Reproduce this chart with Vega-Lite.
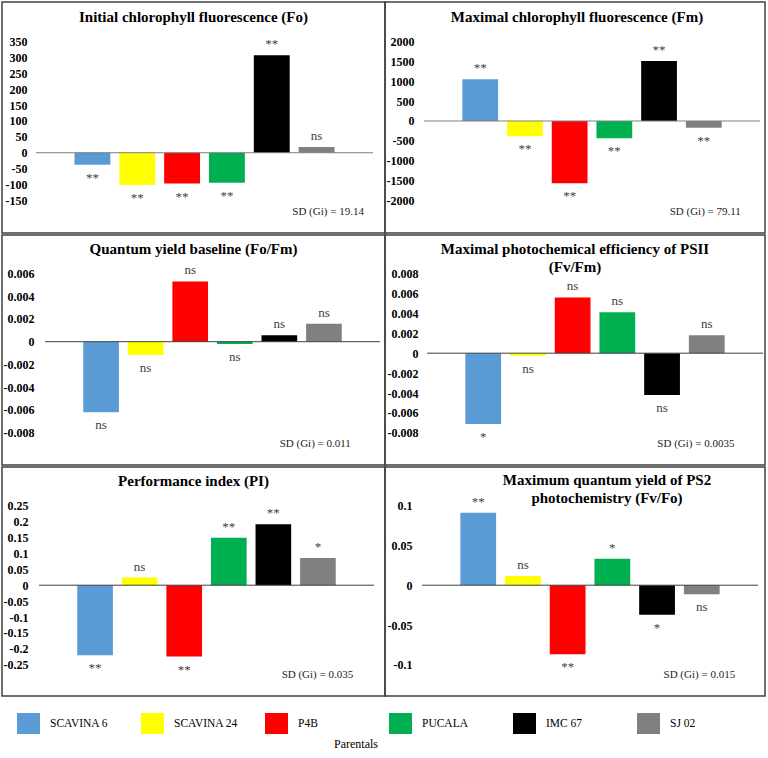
{
  "$schema": "https://vega.github.io/schema/vega-lite/v6.json",
  "padding": {"left": 1, "top": 1, "right": 0, "bottom": 0},
  "background": "white",
  "spacing": 0,
  "datasets": {
    "gca": [
      {"panel": "Fo", "parental": "SCAVINA 6", "value": -38, "sig": "**"},
      {"panel": "Fo", "parental": "SCAVINA 24", "value": -102, "sig": "**"},
      {"panel": "Fo", "parental": "P4B", "value": -97, "sig": "**"},
      {"panel": "Fo", "parental": "PUCALA", "value": -95, "sig": "**"},
      {"panel": "Fo", "parental": "IMC 67", "value": 307, "sig": "**"},
      {"panel": "Fo", "parental": "SJ 02", "value": 18, "sig": "ns"},
      {"panel": "Fm", "parental": "SCAVINA 6", "value": 1052, "sig": "**"},
      {"panel": "Fm", "parental": "SCAVINA 24", "value": -386, "sig": "**"},
      {"panel": "Fm", "parental": "P4B", "value": -1572, "sig": "**"},
      {"panel": "Fm", "parental": "PUCALA", "value": -437, "sig": "**"},
      {"panel": "Fm", "parental": "IMC 67", "value": 1513, "sig": "**"},
      {"panel": "Fm", "parental": "SJ 02", "value": -168, "sig": "**"},
      {"panel": "FoFm", "parental": "SCAVINA 6", "value": -0.0062, "sig": "ns"},
      {"panel": "FoFm", "parental": "SCAVINA 24", "value": -0.00117, "sig": "ns"},
      {"panel": "FoFm", "parental": "P4B", "value": 0.0053, "sig": "ns"},
      {"panel": "FoFm", "parental": "PUCALA", "value": -0.0002, "sig": "ns"},
      {"panel": "FoFm", "parental": "IMC 67", "value": 0.00056, "sig": "ns"},
      {"panel": "FoFm", "parental": "SJ 02", "value": 0.00158, "sig": "ns"},
      {"panel": "FvFm", "parental": "SCAVINA 6", "value": -0.0071, "sig": "*"},
      {"panel": "FvFm", "parental": "SCAVINA 24", "value": -0.00025, "sig": "ns"},
      {"panel": "FvFm", "parental": "P4B", "value": 0.0056, "sig": "ns"},
      {"panel": "FvFm", "parental": "PUCALA", "value": 0.0041, "sig": "ns"},
      {"panel": "FvFm", "parental": "IMC 67", "value": -0.0042, "sig": "ns"},
      {"panel": "FvFm", "parental": "SJ 02", "value": 0.0018, "sig": "ns"},
      {"panel": "PI", "parental": "SCAVINA 6", "value": -0.22, "sig": "**"},
      {"panel": "PI", "parental": "SCAVINA 24", "value": 0.024, "sig": "ns"},
      {"panel": "PI", "parental": "P4B", "value": -0.224, "sig": "**"},
      {"panel": "PI", "parental": "PUCALA", "value": 0.149, "sig": "**"},
      {"panel": "PI", "parental": "IMC 67", "value": 0.191, "sig": "**"},
      {"panel": "PI", "parental": "SJ 02", "value": 0.085, "sig": "*"},
      {"panel": "FvFo", "parental": "SCAVINA 6", "value": 0.091, "sig": "**"},
      {"panel": "FvFo", "parental": "SCAVINA 24", "value": 0.0115, "sig": "ns"},
      {"panel": "FvFo", "parental": "P4B", "value": -0.0868, "sig": "**"},
      {"panel": "FvFo", "parental": "PUCALA", "value": 0.0333, "sig": "*"},
      {"panel": "FvFo", "parental": "IMC 67", "value": -0.037, "sig": "*"},
      {"panel": "FvFo", "parental": "SJ 02", "value": -0.0114, "sig": "ns"}
    ],
    "sd": [
      {"panel": "Fo", "sd": "SD (Gi) = 19.14"},
      {"panel": "Fm", "sd": "SD (Gi) = 79.11"},
      {"panel": "FoFm", "sd": "SD (Gi) = 0.011"},
      {"panel": "FvFm", "sd": "SD (Gi) = 0.0035"},
      {"panel": "PI", "sd": "SD (Gi) = 0.035"},
      {"panel": "FvFo", "sd": "SD (Gi) = 0.015"}
    ]
  },
  "vconcat": [
    {
      "bounds": "flush",
      "hconcat": [
        {
          "width": 383, "height": 231,
          "title": {"text": "Initial chlorophyll fluorescence (Fo)", "offset": -23},
          "data": {"name": "gca"},
          "transform": [{"filter": "datum.panel == 'Fo'"}],
          "resolve": {"scale": {"x": "independent"}},
          "layer": [
            {
              "mark": {"type": "bar"},
              "encoding": {
                "x": {"field": "parental", "type": "nominal", "sort": null, "axis": null,
                      "scale": {"type": "band", "domain": ["SCAVINA 6", "SCAVINA 24", "P4B", "PUCALA", "IMC 67", "SJ 02"], "range": [34, 371], "paddingInner": 0.2, "paddingOuter": 0.858}},
                "y": {"field": "value", "type": "quantitative",
                      "scale": {"domain": [-253, 475], "nice": false, "zero": false},
                      "axis": {"values": [-150, -100, -50, 0, 50, 100, 150, 200, 250, 300, 350], "tickCount": 50, "offset": -25, "labelOverlap": false}},
                "color": {"field": "parental", "type": "nominal", "sort": null,
                          "scale": {"domain": ["SCAVINA 6", "SCAVINA 24", "P4B", "PUCALA", "IMC 67", "SJ 02"], "range": ["#5B9BD5", "#FFFF00", "#FF0000", "#00B050", "#000000", "#808080"]},
                          "legend": {"title": "Parentals", "orient": "none", "legendX": 15, "legendY": 710, "direction": "horizontal", "columns": 6, "gridAlign": "all", "columnPadding": 26, "symbolType": "M-1,-0.913H1V0.913H-1Z", "symbolSize": 529, "symbolStrokeWidth": 0, "symbolOpacity": 1, "labelFont": "Liberation Serif", "labelFontSize": 11.5, "labelColor": "#000000", "labelOffset": 10, "titleOrient": "bottom", "titleAnchor": "middle", "titleFont": "Liberation Serif", "titleFontSize": 12, "titleFontWeight": "normal", "titleColor": "#000000", "titleBaseline": "top", "titlePadding": 5, "padding": 0}}
              }
            },
            {
              "transform": [{"filter": "datum.value >= 0"}],
              "mark": {"type": "text", "baseline": "alphabetic", "dy": -7},
              "encoding": {
                "x": {"field": "parental", "type": "nominal", "sort": null, "axis": null,
                      "scale": {"type": "band", "domain": ["SCAVINA 6", "SCAVINA 24", "P4B", "PUCALA", "IMC 67", "SJ 02"], "range": [34, 371], "paddingInner": 0.2, "paddingOuter": 0.858}},
                "y": {"field": "value", "type": "quantitative"},
                "text": {"field": "sig"}
              }
            },
            {
              "transform": [{"filter": "datum.value < 0"}],
              "mark": {"type": "text", "baseline": "alphabetic", "dy": 17},
              "encoding": {
                "x": {"field": "parental", "type": "nominal", "sort": null, "axis": null,
                      "scale": {"type": "band", "domain": ["SCAVINA 6", "SCAVINA 24", "P4B", "PUCALA", "IMC 67", "SJ 02"], "range": [34, 371], "paddingInner": 0.2, "paddingOuter": 0.858}},
                "y": {"field": "value", "type": "quantitative"},
                "text": {"field": "sig"}
              }
            },
            {
              "data": {"name": "sd"},
              "transform": [{"filter": "datum.panel == 'Fo'"}],
              "layer": [
                {"mark": {"type": "rule", "color": "#7f7f7f", "strokeWidth": 1},
                 "encoding": {"x": {"datum": 0, "type": "quantitative", "axis": null, "scale": {"domain": [0, 1], "range": [34, 371]}}, "x2": {"datum": 1}, "y": {"datum": 0, "type": "quantitative"}}},
                {"mark": {"type": "text", "align": "right", "baseline": "middle", "fontSize": 11, "color": "#222222"},
                 "encoding": {"x": {"datum": 0.973, "type": "quantitative", "axis": null, "scale": {"domain": [0, 1], "range": [34, 371]}}, "y": {"datum": -187, "type": "quantitative"}, "text": {"field": "sd"}}}
              ]
            }
          ]
        },
        {
          "width": 380, "height": 231,
          "title": {"text": "Maximal chlorophyll fluorescence (Fm)", "offset": -23, "dx": 2},
          "data": {"name": "gca"},
          "transform": [{"filter": "datum.panel == 'Fm'"}],
          "resolve": {"scale": {"x": "independent"}},
          "layer": [
            {
              "mark": {"type": "bar"},
              "encoding": {
                "x": {"field": "parental", "type": "nominal", "sort": null, "axis": null,
                      "scale": {"type": "band", "domain": ["SCAVINA 6", "SCAVINA 24", "P4B", "PUCALA", "IMC 67", "SJ 02"], "range": [39, 375], "paddingInner": 0.2, "paddingOuter": 0.858}},
                "y": {"field": "value", "type": "quantitative",
                      "scale": {"domain": [-2825, 3001], "nice": false, "zero": false},
                      "axis": {"values": [-2000, -1500, -1000, -500, 0, 500, 1000, 1500, 2000], "tickCount": 50, "offset": -29, "labelOverlap": false}},
                "color": {"field": "parental", "type": "nominal", "sort": null,
                          "scale": {"domain": ["SCAVINA 6", "SCAVINA 24", "P4B", "PUCALA", "IMC 67", "SJ 02"], "range": ["#5B9BD5", "#FFFF00", "#FF0000", "#00B050", "#000000", "#808080"]}}
              }
            },
            {
              "transform": [{"filter": "datum.value >= 0"}],
              "mark": {"type": "text", "baseline": "alphabetic", "dy": -7},
              "encoding": {
                "x": {"field": "parental", "type": "nominal", "sort": null, "axis": null,
                      "scale": {"type": "band", "domain": ["SCAVINA 6", "SCAVINA 24", "P4B", "PUCALA", "IMC 67", "SJ 02"], "range": [39, 375], "paddingInner": 0.2, "paddingOuter": 0.858}},
                "y": {"field": "value", "type": "quantitative"},
                "text": {"field": "sig"}
              }
            },
            {
              "transform": [{"filter": "datum.value < 0"}],
              "mark": {"type": "text", "baseline": "alphabetic", "dy": 17},
              "encoding": {
                "x": {"field": "parental", "type": "nominal", "sort": null, "axis": null,
                      "scale": {"type": "band", "domain": ["SCAVINA 6", "SCAVINA 24", "P4B", "PUCALA", "IMC 67", "SJ 02"], "range": [39, 375], "paddingInner": 0.2, "paddingOuter": 0.858}},
                "y": {"field": "value", "type": "quantitative"},
                "text": {"field": "sig"}
              }
            },
            {
              "data": {"name": "sd"},
              "transform": [{"filter": "datum.panel == 'Fm'"}],
              "layer": [
                {"mark": {"type": "rule", "color": "#7f7f7f", "strokeWidth": 1},
                 "encoding": {"x": {"datum": 0, "type": "quantitative", "axis": null, "scale": {"domain": [0, 1], "range": [39, 375]}}, "x2": {"datum": 1}, "y": {"datum": 0, "type": "quantitative"}}},
                {"mark": {"type": "text", "align": "right", "baseline": "middle", "fontSize": 11, "color": "#222222"},
                 "encoding": {"x": {"datum": 0.943, "type": "quantitative", "axis": null, "scale": {"domain": [0, 1], "range": [39, 375]}}, "y": {"datum": -2295, "type": "quantitative"}, "text": {"field": "sd"}}}
              ]
            }
          ]
        }
      ]
    },
    {
      "bounds": "flush",
      "hconcat": [
        {
          "width": 383, "height": 230,
          "title": {"text": "Quantum yield baseline (Fo/Fm)", "offset": -22},
          "data": {"name": "gca"},
          "transform": [{"filter": "datum.panel == 'FoFm'"}],
          "resolve": {"scale": {"x": "independent"}},
          "layer": [
            {
              "mark": {"type": "bar"},
              "encoding": {
                "x": {"field": "parental", "type": "nominal", "sort": null, "axis": null,
                      "scale": {"type": "band", "domain": ["SCAVINA 6", "SCAVINA 24", "P4B", "PUCALA", "IMC 67", "SJ 02"], "range": [43, 378], "paddingInner": 0.2, "paddingOuter": 0.858}},
                "y": {"field": "value", "type": "quantitative",
                      "scale": {"domain": [-0.010836, 0.009377], "nice": false, "zero": false},
                      "axis": {"values": [-0.008, -0.006, -0.004, -0.002, 0, 0.002, 0.004, 0.006], "tickCount": 50, "offset": -32, "labelOverlap": false}},
                "color": {"field": "parental", "type": "nominal", "sort": null,
                          "scale": {"domain": ["SCAVINA 6", "SCAVINA 24", "P4B", "PUCALA", "IMC 67", "SJ 02"], "range": ["#5B9BD5", "#FFFF00", "#FF0000", "#00B050", "#000000", "#808080"]}}
              }
            },
            {
              "transform": [{"filter": "datum.value >= 0"}],
              "mark": {"type": "text", "baseline": "alphabetic", "dy": -7},
              "encoding": {
                "x": {"field": "parental", "type": "nominal", "sort": null, "axis": null,
                      "scale": {"type": "band", "domain": ["SCAVINA 6", "SCAVINA 24", "P4B", "PUCALA", "IMC 67", "SJ 02"], "range": [43, 378], "paddingInner": 0.2, "paddingOuter": 0.858}},
                "y": {"field": "value", "type": "quantitative"},
                "text": {"field": "sig"}
              }
            },
            {
              "transform": [{"filter": "datum.value < 0"}],
              "mark": {"type": "text", "baseline": "alphabetic", "dy": 17},
              "encoding": {
                "x": {"field": "parental", "type": "nominal", "sort": null, "axis": null,
                      "scale": {"type": "band", "domain": ["SCAVINA 6", "SCAVINA 24", "P4B", "PUCALA", "IMC 67", "SJ 02"], "range": [43, 378], "paddingInner": 0.2, "paddingOuter": 0.858}},
                "y": {"field": "value", "type": "quantitative"},
                "text": {"field": "sig"}
              }
            },
            {
              "data": {"name": "sd"},
              "transform": [{"filter": "datum.panel == 'FoFm'"}],
              "layer": [
                {"mark": {"type": "rule", "color": "#3f3f3f", "strokeWidth": 1},
                 "encoding": {"x": {"datum": 0, "type": "quantitative", "axis": null, "scale": {"domain": [0, 1], "range": [43, 378]}}, "x2": {"datum": 1}, "y": {"datum": 0, "type": "quantitative"}}},
                {"mark": {"type": "text", "align": "right", "baseline": "middle", "fontSize": 11, "color": "#222222"},
                 "encoding": {"x": {"datum": 0.913, "type": "quantitative", "axis": null, "scale": {"domain": [0, 1], "range": [43, 378]}}, "y": {"datum": -0.00899, "type": "quantitative"}, "text": {"field": "sd"}}}
              ]
            }
          ]
        },
        {
          "width": 380, "height": 230,
          "title": {"text": ["Maximal photochemical efficiency of PSII", "(Fv/Fm)"], "offset": -40, "lineHeight": 18},
          "data": {"name": "gca"},
          "transform": [{"filter": "datum.panel == 'FvFm'"}],
          "resolve": {"scale": {"x": "independent"}},
          "layer": [
            {
              "mark": {"type": "bar"},
              "encoding": {
                "x": {"field": "parental", "type": "nominal", "sort": null, "axis": null,
                      "scale": {"type": "band", "domain": ["SCAVINA 6", "SCAVINA 24", "P4B", "PUCALA", "IMC 67", "SJ 02"], "range": [42, 378], "paddingInner": 0.2, "paddingOuter": 0.858}},
                "y": {"field": "value", "type": "quantitative",
                      "scale": {"domain": [-0.01123, 0.01187], "nice": false, "zero": false},
                      "axis": {"values": [-0.008, -0.006, -0.004, -0.002, 0, 0.002, 0.004, 0.006, 0.008], "tickCount": 50, "offset": -33, "labelOverlap": false}},
                "color": {"field": "parental", "type": "nominal", "sort": null,
                          "scale": {"domain": ["SCAVINA 6", "SCAVINA 24", "P4B", "PUCALA", "IMC 67", "SJ 02"], "range": ["#5B9BD5", "#FFFF00", "#FF0000", "#00B050", "#000000", "#808080"]}}
              }
            },
            {
              "transform": [{"filter": "datum.value >= 0"}],
              "mark": {"type": "text", "baseline": "alphabetic", "dy": -7},
              "encoding": {
                "x": {"field": "parental", "type": "nominal", "sort": null, "axis": null,
                      "scale": {"type": "band", "domain": ["SCAVINA 6", "SCAVINA 24", "P4B", "PUCALA", "IMC 67", "SJ 02"], "range": [42, 378], "paddingInner": 0.2, "paddingOuter": 0.858}},
                "y": {"field": "value", "type": "quantitative"},
                "text": {"field": "sig"}
              }
            },
            {
              "transform": [{"filter": "datum.value < 0"}],
              "mark": {"type": "text", "baseline": "alphabetic", "dy": 17},
              "encoding": {
                "x": {"field": "parental", "type": "nominal", "sort": null, "axis": null,
                      "scale": {"type": "band", "domain": ["SCAVINA 6", "SCAVINA 24", "P4B", "PUCALA", "IMC 67", "SJ 02"], "range": [42, 378], "paddingInner": 0.2, "paddingOuter": 0.858}},
                "y": {"field": "value", "type": "quantitative"},
                "text": {"field": "sig"}
              }
            },
            {
              "data": {"name": "sd"},
              "transform": [{"filter": "datum.panel == 'FvFm'"}],
              "layer": [
                {"mark": {"type": "rule", "color": "#3f3f3f", "strokeWidth": 1},
                 "encoding": {"x": {"datum": 0, "type": "quantitative", "axis": null, "scale": {"domain": [0, 1], "range": [42, 378]}}, "x2": {"datum": 1}, "y": {"datum": 0, "type": "quantitative"}}},
                {"mark": {"type": "text", "align": "right", "baseline": "middle", "fontSize": 11, "color": "#222222"},
                 "encoding": {"x": {"datum": 0.915, "type": "quantitative", "axis": null, "scale": {"domain": [0, 1], "range": [42, 378]}}, "y": {"datum": -0.00912, "type": "quantitative"}, "text": {"field": "sd"}}}
              ]
            }
          ]
        }
      ]
    },
    {
      "bounds": "flush",
      "hconcat": [
        {
          "width": 383, "height": 229,
          "title": {"text": "Performance index (PI)", "offset": -22},
          "data": {"name": "gca"},
          "transform": [{"filter": "datum.panel == 'PI'"}],
          "resolve": {"scale": {"x": "independent"}},
          "layer": [
            {
              "mark": {"type": "bar"},
              "encoding": {
                "x": {"field": "parental", "type": "nominal", "sort": null, "axis": null,
                      "scale": {"type": "band", "domain": ["SCAVINA 6", "SCAVINA 24", "P4B", "PUCALA", "IMC 67", "SJ 02"], "range": [37, 372], "paddingInner": 0.2, "paddingOuter": 0.858}},
                "y": {"field": "value", "type": "quantitative",
                      "scale": {"domain": [-0.3477, 0.3709], "nice": false, "zero": false},
                      "axis": {"values": [-0.25, -0.2, -0.15, -0.1, -0.05, 0, 0.05, 0.1, 0.15, 0.2, 0.25], "tickCount": 50, "offset": -26, "labelOverlap": false}},
                "color": {"field": "parental", "type": "nominal", "sort": null,
                          "scale": {"domain": ["SCAVINA 6", "SCAVINA 24", "P4B", "PUCALA", "IMC 67", "SJ 02"], "range": ["#5B9BD5", "#FFFF00", "#FF0000", "#00B050", "#000000", "#808080"]}}
              }
            },
            {
              "transform": [{"filter": "datum.value >= 0"}],
              "mark": {"type": "text", "baseline": "alphabetic", "dy": -7},
              "encoding": {
                "x": {"field": "parental", "type": "nominal", "sort": null, "axis": null,
                      "scale": {"type": "band", "domain": ["SCAVINA 6", "SCAVINA 24", "P4B", "PUCALA", "IMC 67", "SJ 02"], "range": [37, 372], "paddingInner": 0.2, "paddingOuter": 0.858}},
                "y": {"field": "value", "type": "quantitative"},
                "text": {"field": "sig"}
              }
            },
            {
              "transform": [{"filter": "datum.value < 0"}],
              "mark": {"type": "text", "baseline": "alphabetic", "dy": 17},
              "encoding": {
                "x": {"field": "parental", "type": "nominal", "sort": null, "axis": null,
                      "scale": {"type": "band", "domain": ["SCAVINA 6", "SCAVINA 24", "P4B", "PUCALA", "IMC 67", "SJ 02"], "range": [37, 372], "paddingInner": 0.2, "paddingOuter": 0.858}},
                "y": {"field": "value", "type": "quantitative"},
                "text": {"field": "sig"}
              }
            },
            {
              "data": {"name": "sd"},
              "transform": [{"filter": "datum.panel == 'PI'"}],
              "layer": [
                {"mark": {"type": "rule", "color": "#3f3f3f", "strokeWidth": 1},
                 "encoding": {"x": {"datum": 0, "type": "quantitative", "axis": null, "scale": {"domain": [0, 1], "range": [37, 372]}}, "x2": {"datum": 1}, "y": {"datum": 0, "type": "quantitative"}}},
                {"mark": {"type": "text", "align": "right", "baseline": "middle", "fontSize": 11, "color": "#222222"},
                 "encoding": {"x": {"datum": 0.938, "type": "quantitative", "axis": null, "scale": {"domain": [0, 1], "range": [37, 372]}}, "y": {"datum": -0.2818, "type": "quantitative"}, "text": {"field": "sd"}}}
              ]
            }
          ]
        },
        {
          "width": 380, "height": 229,
          "title": {"text": ["Maximum quantum yield of PS2", "photochemistry (Fv/Fo)"], "offset": -39, "lineHeight": 18, "dx": 32},
          "data": {"name": "gca"},
          "transform": [{"filter": "datum.panel == 'FvFo'"}],
          "resolve": {"scale": {"x": "independent"}},
          "layer": [
            {
              "mark": {"type": "bar"},
              "encoding": {
                "x": {"field": "parental", "type": "nominal", "sort": null, "axis": null,
                      "scale": {"type": "band", "domain": ["SCAVINA 6", "SCAVINA 24", "P4B", "PUCALA", "IMC 67", "SJ 02"], "range": [37, 373], "paddingInner": 0.2, "paddingOuter": 0.858}},
                "y": {"field": "value", "type": "quantitative",
                      "scale": {"domain": [-0.1391, 0.1484], "nice": false, "zero": false},
                      "axis": {"values": [-0.1, -0.05, 0, 0.05, 0.1], "tickCount": 50, "offset": -27, "labelOverlap": false}},
                "color": {"field": "parental", "type": "nominal", "sort": null,
                          "scale": {"domain": ["SCAVINA 6", "SCAVINA 24", "P4B", "PUCALA", "IMC 67", "SJ 02"], "range": ["#5B9BD5", "#FFFF00", "#FF0000", "#00B050", "#000000", "#808080"]}}
              }
            },
            {
              "transform": [{"filter": "datum.value >= 0"}],
              "mark": {"type": "text", "baseline": "alphabetic", "dy": -7},
              "encoding": {
                "x": {"field": "parental", "type": "nominal", "sort": null, "axis": null,
                      "scale": {"type": "band", "domain": ["SCAVINA 6", "SCAVINA 24", "P4B", "PUCALA", "IMC 67", "SJ 02"], "range": [37, 373], "paddingInner": 0.2, "paddingOuter": 0.858}},
                "y": {"field": "value", "type": "quantitative"},
                "text": {"field": "sig"}
              }
            },
            {
              "transform": [{"filter": "datum.value < 0"}],
              "mark": {"type": "text", "baseline": "alphabetic", "dy": 17},
              "encoding": {
                "x": {"field": "parental", "type": "nominal", "sort": null, "axis": null,
                      "scale": {"type": "band", "domain": ["SCAVINA 6", "SCAVINA 24", "P4B", "PUCALA", "IMC 67", "SJ 02"], "range": [37, 373], "paddingInner": 0.2, "paddingOuter": 0.858}},
                "y": {"field": "value", "type": "quantitative"},
                "text": {"field": "sig"}
              }
            },
            {
              "data": {"name": "sd"},
              "transform": [{"filter": "datum.panel == 'FvFo'"}],
              "layer": [
                {"mark": {"type": "rule", "color": "#3f3f3f", "strokeWidth": 1},
                 "encoding": {"x": {"datum": 0, "type": "quantitative", "axis": null, "scale": {"domain": [0, 1], "range": [37, 373]}}, "x2": {"datum": 1}, "y": {"datum": 0, "type": "quantitative"}}},
                {"mark": {"type": "text", "align": "right", "baseline": "middle", "fontSize": 11, "color": "#222222"},
                 "encoding": {"x": {"datum": 0.932, "type": "quantitative", "axis": null, "scale": {"domain": [0, 1], "range": [37, 373]}}, "y": {"datum": -0.1127, "type": "quantitative"}, "text": {"field": "sd"}}}
              ]
            }
          ]
        }
      ]
    },
    {
      "width": 763, "height": 65,
      "data": {"values": [{"note": ""}]},
      "mark": {"type": "text"},
      "encoding": {"text": {"field": "note"}}
    }
  ],
  "config": {
    "view": {"stroke": "#404040", "strokeWidth": 1.5},
    "concat": {"spacing": 0},
    "title": {"font": "Liberation Serif", "fontSize": 15, "fontWeight": "bold", "color": "#000000", "anchor": "middle", "baseline": "alphabetic"},
    "text": {"font": "Liberation Serif", "fontSize": 13, "color": "#404040"},
    "bar": {"stroke": null},
    "axisY": {"domain": false, "ticks": false, "tickSize": 0, "grid": false, "title": null, "labelPadding": 0, "labelFont": "Liberation Serif", "labelFontSize": 12, "labelFontWeight": "bold", "labelColor": "#000000", "labelFlush": false, "labelExpr": "replace(format(datum.value, '~g'), '\u2212', '-')"}
  }
}
